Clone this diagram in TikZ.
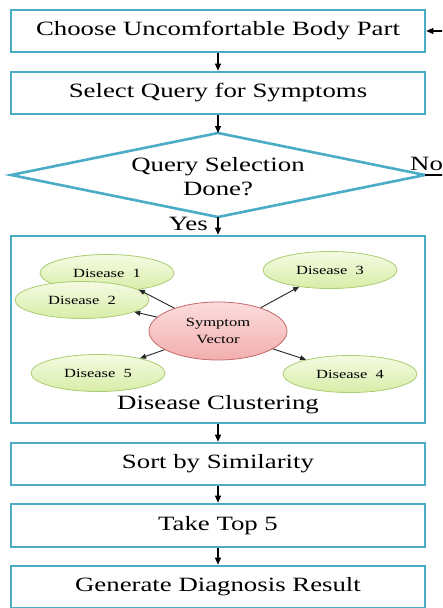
\documentclass[tikz,border=0pt]{standalone}
\usepackage{fontspec}
\setmainfont[FakeStretch=1.32]{Liberation Serif}
\usetikzlibrary{arrows.meta,shapes.geometric}
\definecolor{boxblue}{HTML}{4BACC6}
\definecolor{greenfillA}{HTML}{F5FBE2}
\definecolor{greenfillB}{HTML}{D8EDA8}
\definecolor{greenline}{HTML}{AACD72}
\definecolor{redfillA}{HTML}{FCDCDC}
\definecolor{redfillB}{HTML}{F2AEAE}
\definecolor{redline}{HTML}{C46A6A}
\tikzset{
  stepbox/.style={draw=boxblue, line width=2.6pt, fill=white, minimum width=414pt, minimum height=42pt, inner sep=0pt, font=\fontsize{20.3}{24}\selectfont},
  flow/.style={draw=black, line width=1.1pt, -{Triangle[length=7pt,width=6pt]}},
  thin/.style={draw=black!85, line width=0.9pt, -{Triangle[length=6pt,width=5pt]}},
  disease/.style={ellipse, draw=greenline, line width=0.8pt, top color=greenfillA, bottom color=greenfillB, minimum width=134pt, minimum height=37pt, inner sep=0pt, font=\fontsize{12.5}{15}\selectfont},
  symptom/.style={ellipse, draw=redline, line width=0.8pt, top color=redfillA, bottom color=redfillB, minimum width=138pt, minimum height=58pt, inner sep=0pt, align=center, font=\fontsize{12.5}{17}\selectfont},
  lbl/.style={inner sep=0pt, font=\fontsize{20.3}{24}\selectfont}
}
\begin{document}
\begin{tikzpicture}[x=1pt,y=-1pt]
\useasboundingbox (0,0) rectangle (442,608);
\clip (0,0) rectangle (442,608);
\fill[white] (0,0) rectangle (442,608);

\node[stepbox] (b1) at (218,31) {Choose Uncomfortable Body Part};
\node[stepbox] (b2) at (218,93) {Select Query for Symptoms};

\coordinate (dl) at (11,175);
\coordinate (dt) at (218,133);
\coordinate (dr) at (425,175);
\coordinate (db) at (218,217);
\draw[boxblue, line width=2.6pt, line join=miter, fill=white] (dl) -- (dt) -- (dr) -- (db) -- cycle;
\node[lbl, align=center] (dtext) at (218,177) {Query Selection\\Done?};

\node[stepbox, minimum height=187pt] (cl) at (218,329.5) {};
\node[lbl] (cltext) at (218,405) {Disease Clustering};

\node[disease] (d1) at (107,273) {Disease\ \ 1};
\node[disease] (d2) at (82,300) {Disease\ \ 2};
\node[disease] (d3) at (330,270) {Disease\ \ 3};
\node[disease] (d4) at (350,374) {Disease\ \ 4};
\node[disease] (d5) at (98,373) {Disease\ \ 5};
\node[symptom] (sv) at (218,331) {Symptom\\Vector};

\draw[thin] (sv) -- (d1);
\draw[thin] (sv) -- (d2);
\draw[thin] (sv) -- (d3);
\draw[thin] (sv) -- (d4);
\draw[thin] (sv) -- (d5);

\node[stepbox] (b3) at (218,464) {Sort by Similarity};
\node[stepbox, minimum height=43pt] (b4) at (218,525.5) {Take Top 5};
\node[stepbox] (b5) at (218,587) {Generate Diagnosis\ Result};

\draw[flow] (b1) -- (b2);
\draw[flow] (b2) -- (dt);
\draw[flow] (db) -- (cl);
\draw[flow] (cl) -- (b3);
\draw[flow] (b3) -- (b4);
\draw[flow] (b4) -- (b5);

\coordinate (loopA) at (470,175);
\coordinate (loopB) at (470,31);
\draw[flow] (dr) -- (loopA) -- (loopB) -- (b1.east);
\node[lbl, anchor=south west] (no) at (410,171) {No};
\node[lbl, anchor=south east] (yes) at (208,231) {Yes};
\end{tikzpicture}
\end{document}
